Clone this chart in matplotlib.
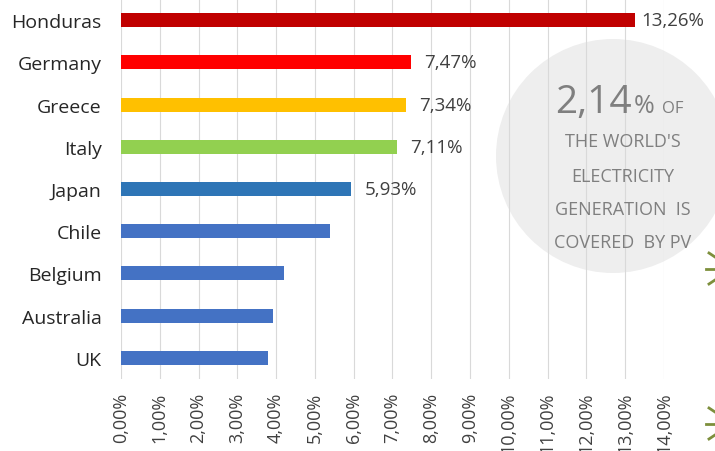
import matplotlib.pyplot as plt
from matplotlib.patches import Circle
from matplotlib.lines import Line2D

# data (bottom to top)
countries = ["UK", "Australia", "Belgium", "Chile", "Japan", "Italy", "Greece", "Germany", "Honduras"]
shares = [3.79, 3.92, 4.20, 5.39, 5.93, 7.11, 7.34, 7.47, 13.26]
bar_colors = ["#4472C4", "#4472C4", "#4472C4", "#4472C4", "#2E75B6",
              "#92D050", "#FFC000", "#FF0000", "#C00000"]
labelled = ["Japan", "Italy", "Greece", "Germany", "Honduras"]
ticks = list(range(0, 15))
world_share = "2,14"

plt.rcParams['font.family'] = ['Open Sans', 'DejaVu Sans']

fig = plt.figure(figsize=(7.15, 4.52), dpi=100)
ax = fig.add_axes([0.1692, 0.1593, 0.7594, 0.8407])

ypos = list(range(len(countries)))
ax.barh(ypos, shares, height=0.33, color=bar_colors, zorder=2)

for y, c, v in zip(ypos, countries, shares):
    if c in labelled:
        off = 4 if v == max(shares) else 10  # longest label sits closer to its bar
        ax.annotate(f"{v:.2f}%".replace(".", ","), (v, y), xytext=(off, 0),
                    textcoords="offset points", va="center", ha="left",
                    fontsize=13.5, color="#404040", clip_on=False, zorder=5)

ax.set_xlim(0, 14)
ax.set_ylim(-0.5, 8.5)
ax.set_yticks(ypos)
ax.set_yticklabels(countries, fontsize=14, color="#262626")
ax.set_xticks(ticks)
ax.set_xticklabels([f"{t},00%" for t in ticks], rotation=90, fontsize=13, color="#404040")
ax.tick_params(length=0)
ax.tick_params(axis="x", pad=9)
ax.tick_params(axis="y", pad=14)
ax.grid(axis="x", color="#D9D9D9", linewidth=0.8)
ax.set_axisbelow(True)
for s in ax.spines.values():
    s.set_visible(False)

# grey circle with the world figure
circ = Circle((6.13, 2.95), 1.17, transform=fig.dpi_scale_trans, facecolor="#EEEEEE",
              edgecolor="none", zorder=0.3, clip_on=False)
ax.add_patch(circ)

grey = "#7F7F7F"
fig.text(0.8839, 0.75, world_share, fontsize=28, color=grey, ha="right", va="baseline")
fig.text(0.8867, 0.75, "%", fontsize=18, color=grey, ha="left", va="baseline")
fig.text(0.9259, 0.75, "OF", fontsize=12, color=grey, ha="left", va="baseline")
lines = ["THE WORLD'S", "ELECTRICITY", "GENERATION  IS", "COVERED  BY PV"]
bases = [0.6748, 0.5973, 0.5243, 0.4513]
for t, b in zip(lines, bases):
    fig.text(0.871, b, t, fontsize=13, color=grey, ha="center", va="baseline")

# cut-off sun icons at the right edge
green = "#7D8F3C"
for cy in (270, 425):
    for x0, y0, x1, y1 in ((709, cy - 16, 715, cy - 12), (706, cy, 715, cy), (709, cy + 15, 715, cy + 11)):
        fig.add_artist(Line2D([x0 / 715, x1 / 715], [1 - y0 / 452, 1 - y1 / 452],
                              color=green, linewidth=2, transform=fig.transFigure))

fig.savefig("out.png", dpi=100)
